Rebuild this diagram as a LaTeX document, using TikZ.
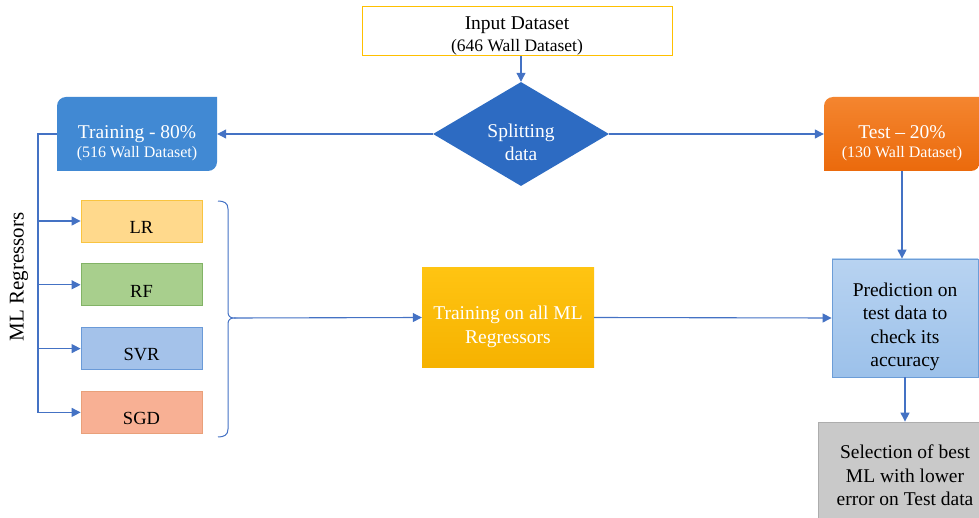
\documentclass[tikz,border=0pt]{standalone}
\usepackage{fontspec}
\setmainfont{Liberation Serif}
\usetikzlibrary{arrows.meta,positioning,shapes.geometric,calc}
\definecolor{lineblue}{HTML}{4472C4}
\definecolor{gold}{HTML}{FFC000}
\definecolor{splitblue}{HTML}{2D6BC2}
\definecolor{trainblue}{HTML}{4189D3}
\definecolor{lrfill}{HTML}{FFD98C}
\definecolor{lrdraw}{HTML}{F9C440}
\definecolor{rffill}{HTML}{A8CF8D}
\definecolor{rfdraw}{HTML}{82B366}
\definecolor{svrfill}{HTML}{A4C2EA}
\definecolor{svrdraw}{HTML}{6A9AD8}
\definecolor{sgdfill}{HTML}{F8B094}
\definecolor{sgddraw}{HTML}{E9A07A}
\definecolor{predtop}{HTML}{B8D3F1}
\definecolor{predbot}{HTML}{9CC1EA}
\definecolor{preddraw}{HTML}{6C9DD7}
\definecolor{selfill}{HTML}{C9C9C9}
\definecolor{seldraw}{HTML}{ADADAD}
\definecolor{testtop}{HTML}{F4852F}
\definecolor{testbot}{HTML}{EB6A0C}
\definecolor{alltop}{HTML}{FFC412}
\definecolor{allbot}{HTML}{F6B200}

\newcommand{\bigtxt}{\fontsize{19.5}{23.5}\selectfont}
\newcommand{\subtxt}{\fontsize{16}{19}\selectfont}
\newcommand{\regtxt}{\fontsize{18.5}{22}\selectfont}
\newcommand{\dropby}[1]{\rule{0pt}{#1}}

\begin{document}
\begin{tikzpicture}[x=1pt,y=-1pt,
  box/.style={rectangle,inner sep=0pt,align=center,font=\bigtxt},
  regbox/.style={box,minimum width=121pt,minimum height=42pt,
    line width=0.8pt,font=\regtxt},
  conn/.style={lineblue,line width=1.1pt},
  arr/.style={conn,-{Triangle[length=9pt,width=9pt]}}]
  \useasboundingbox (0,0) rectangle (979,518);
  \clip (0,0) rectangle (979,518);

  \node[box,draw=gold,line width=1pt,fill=white,minimum width=310pt,
    minimum height=49pt] (in) at (517,31.5)
    {\dropby{22pt}Input Dataset\\[-1.5pt]{\fontsize{17.5}{21}\selectfont (646 Wall Dataset)}};
  \node[diamond,aspect=1.7,fill=splitblue,text=white,inner sep=0pt,
    minimum width=176pt,minimum height=104pt,align=center,font=\bigtxt]
    (sp) at (521,134) {\dropby{30pt}Splitting\\data};

  \fill[trainblue] (57,171) -- (57,106) arc[start angle=180,end angle=270,radius=9]
    -- (217,97) -- (217,162) arc[start angle=0,end angle=90,radius=9] -- cycle;
  \node[box,text=white,minimum width=160pt,minimum height=74pt]
    (tr) at (137,134) {\dropby{31pt}Training - 80\%\\[-4.5pt]{\subtxt (516 Wall Dataset)}};

  \shade[top color=testtop,bottom color=testbot] (824,171) -- (824,106)
    arc[start angle=180,end angle=270,radius=9] -- (980,97) -- (980,162)
    arc[start angle=0,end angle=90,radius=9] -- cycle;
  \node[box,text=white,minimum width=156pt,minimum height=74pt]
    (te) at (902,134) {\dropby{31pt}Test -- 20\%\\[-4.5pt]{\subtxt (130 Wall Dataset)}};

  \node[regbox,draw=lrdraw,fill=lrfill] (lr) at (141.5,221) {\dropby{25pt}LR};
  \node[regbox,draw=rfdraw,fill=rffill,below=21pt of lr] (rf) {\dropby{25pt}RF};
  \node[regbox,draw=svrdraw,fill=svrfill,below=21pt of rf] (svr) {\dropby{25pt}SVR};
  \node[regbox,draw=sgddraw,fill=sgdfill,below=21pt of svr] (sgd) {\dropby{25pt}SGD};

  \node[rotate=90,font=\fontsize{21}{24}\selectfont] (mlr) at (19,277)
    {ML Regressors};

  \node[box,text=white,top color=alltop,bottom color=allbot,
    minimum width=172pt,minimum height=99pt] (all)
    at (508,317.5) {\dropby{32pt}Training on all ML\\Regressors};
  \node[box,draw=preddraw,line width=0.8pt,top color=predtop,
    bottom color=predbot,minimum width=146pt,minimum height=118pt]
    (pred) at (905,318)
    {\dropby{31pt}Prediction on\\test data to\\check its\\accuracy};
  \node[box,draw=seldraw,line width=0.8pt,fill=selfill,
    minimum width=174pt,minimum height=96pt] (sel)
    at (905,470) {\dropby{25pt}Selection of best\\ML with lower\\error on Test data};

  \coordinate (bus) at (38,0);
  \coordinate (bt) at (234,318);

  \draw[arr] (in.south -| sp.north) -- (sp.north);
  \draw[arr] (sp.west) -- (tr.east);
  \draw[arr] (sp.east) -- (te.west);
  \draw[arr] (tr.west) -- (tr.west -| bus) |- (sgd.west);
  \draw[arr] (lr.west -| bus) -- (lr.west);
  \draw[arr] (rf.west -| bus) -- (rf.west);
  \draw[arr] (svr.west -| bus) -- (svr.west);
  \draw[conn,line width=1pt] (218,201) .. controls (224,201) and (228,203) .. (228,209)
    -- (228,312) .. controls (228,316) and (230,318) .. (bt)
    .. controls (230,318) and (228,320) .. (228,324)
    -- (228,429) .. controls (228,435) and (224,437) .. (218,437);
  \draw[arr] (bt) -- (all.west);
  \draw[arr] (all.east) -- (pred.west);
  \draw[arr] (te.south) -- (te.south |- pred.north);
  \draw[arr] (pred.south) -- (pred.south |- sel.north);
\end{tikzpicture}
\end{document}
